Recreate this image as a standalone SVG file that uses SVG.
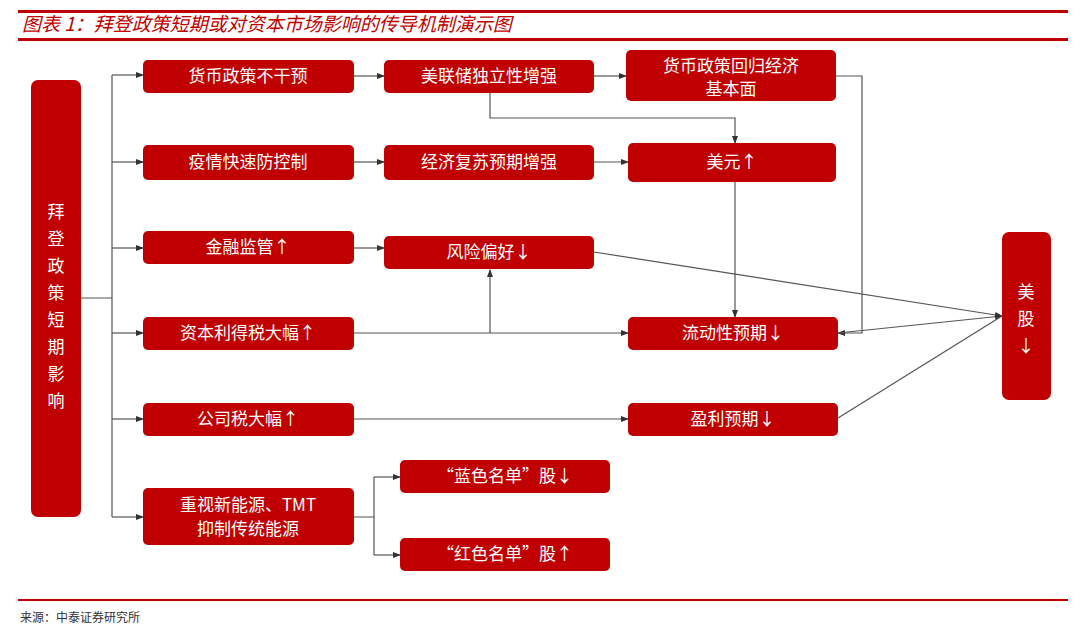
<svg xmlns="http://www.w3.org/2000/svg" width="1080" height="632" viewBox="0 0 1080 632">
<style>
.b{fill:#c00000;}
.t{fill:#fff;font-family:"Noto Sans CJK SC","Liberation Serif",serif;font-size:17px;text-anchor:middle;}
.c{fill:none;stroke:#555;stroke-width:1.2;}
</style>
<defs><marker id="a" markerWidth="8" markerHeight="8" refX="7" refY="4" orient="auto" markerUnits="userSpaceOnUse"><path d="M0,1 L8,4 L0,7 Z" fill="#333"/></marker></defs>
<rect width="1080" height="632" fill="#fff"/>
<rect x="18" y="10" width="1050" height="3" fill="#c00000"/>
<rect x="18" y="38" width="1050" height="3" fill="#c00000"/>
<text x="22" y="31" font-family="Noto Sans CJK SC,sans-serif" font-size="19" font-style="italic" fill="#c00000">图表 1：拜登政策短期或对资本市场影响的传导机制演示图</text>
<rect x="18" y="599" width="1050" height="2" fill="#c00000"/>
<text x="20" y="622" font-family="Noto Sans CJK SC,sans-serif" font-size="12" fill="#333">来源：中泰证券研究所</text>
<g id="connectors" class="c">
<path d="M81,298 H112 M112,75 V517"/>
<path d="M112,75 H143" marker-end="url(#a)"/>
<path d="M112,162 H143" marker-end="url(#a)"/>
<path d="M112,248 H143" marker-end="url(#a)"/>
<path d="M112,333 H143" marker-end="url(#a)"/>
<path d="M112,419 H143" marker-end="url(#a)"/>
<path d="M112,517 H143" marker-end="url(#a)"/>
<path d="M354,76 H384" marker-end="url(#a)"/>
<path d="M594,76 H626" marker-end="url(#a)"/>
<path d="M354,162 H384" marker-end="url(#a)"/>
<path d="M594,162 H628" marker-end="url(#a)"/>
<path d="M354,248 H384" marker-end="url(#a)"/>
<path d="M354,333 H628" marker-end="url(#a)"/>
<path d="M490,333 V270" marker-end="url(#a)"/>
<path d="M354,419 H628" marker-end="url(#a)"/>
<path d="M490,93 V118 H735 V143" marker-end="url(#a)"/>
<path d="M735,182 V317" marker-end="url(#a)"/>
<path d="M836,76 H862 V333 H838" marker-end="url(#a)"/>
<path d="M594,252 L1002,316" marker-end="url(#a)"/>
<path d="M838,333 L1002,316" marker-end="url(#a)"/>
<path d="M838,418 L1002,316"/>
<path d="M354,517 H374 M374,477 V555"/>
<path d="M374,477 H400" marker-end="url(#a)"/>
<path d="M374,555 H400" marker-end="url(#a)"/>
</g>
<g id="n0"><rect class="b" x="31" y="80" width="50" height="437" rx="7"/><text class="t" font-size="18"><tspan x="56" y="218">拜</tspan><tspan x="56" y="245">登</tspan><tspan x="56" y="272">政</tspan><tspan x="56" y="299">策</tspan><tspan x="56" y="326">短</tspan><tspan x="56" y="353">期</tspan><tspan x="56" y="380">影</tspan><tspan x="56" y="407">响</tspan></text></g>
<g id="n1"><rect class="b" x="143" y="60" width="211" height="33" rx="5"/><text class="t" x="248" y="82">货币政策不干预</text></g>
<g id="n2"><rect class="b" x="384" y="60" width="210" height="33" rx="5"/><text class="t" x="489" y="82">美联储独立性增强</text></g>
<g id="n3"><rect class="b" x="626" y="50" width="210" height="51" rx="5"/><text class="t" x="731" y="72">货币政策回归经济</text><text class="t" x="731" y="95">基本面</text></g>
<g id="n4"><rect class="b" x="143" y="145" width="211" height="35" rx="5"/><text class="t" x="248" y="168">疫情快速防控制</text></g>
<g id="n5"><rect class="b" x="384" y="145" width="210" height="35" rx="5"/><text class="t" x="489" y="168">经济复苏预期增强</text></g>
<g id="n6"><rect class="b" x="628" y="143" width="208" height="39" rx="5"/><text class="t" x="732" y="168">美元↑</text></g>
<g id="n7"><rect class="b" x="143" y="231" width="211" height="33" rx="5"/><text class="t" x="248" y="253">金融监管↑</text></g>
<g id="n8"><rect class="b" x="384" y="236" width="210" height="33" rx="5"/><text class="t" x="489" y="258">风险偏好↓</text></g>
<g id="n9"><rect class="b" x="143" y="317" width="211" height="33" rx="5"/><text class="t" x="248" y="339">资本利得税大幅↑</text></g>
<g id="n10"><rect class="b" x="628" y="317" width="210" height="33" rx="5"/><text class="t" x="733" y="339">流动性预期↓</text></g>
<g id="n11"><rect class="b" x="143" y="403" width="211" height="33" rx="5"/><text class="t" x="248" y="425">公司税大幅↑</text></g>
<g id="n12"><rect class="b" x="628" y="403" width="210" height="33" rx="5"/><text class="t" x="733" y="425">盈利预期↓</text></g>
<g id="n13"><rect class="b" x="143" y="488" width="211" height="57" rx="5"/><text class="t" x="248" y="511">重视新能源、TMT</text><text class="t" x="248" y="535">抑制传统能源</text></g>
<g id="n14"><rect class="b" x="400" y="460" width="210" height="33" rx="5"/><text class="t" x="505" y="482">“蓝色名单”股↓</text></g>
<g id="n15"><rect class="b" x="400" y="538" width="210" height="33" rx="5"/><text class="t" x="505" y="560">“红色名单”股↑</text></g>
<g id="n16"><rect class="b" x="1002" y="232" width="49" height="168" rx="7"/><text class="t" font-size="18"><tspan x="1026" y="298">美</tspan><tspan x="1026" y="325">股</tspan><tspan x="1026" y="352">↓</tspan></text></g>
</svg>
